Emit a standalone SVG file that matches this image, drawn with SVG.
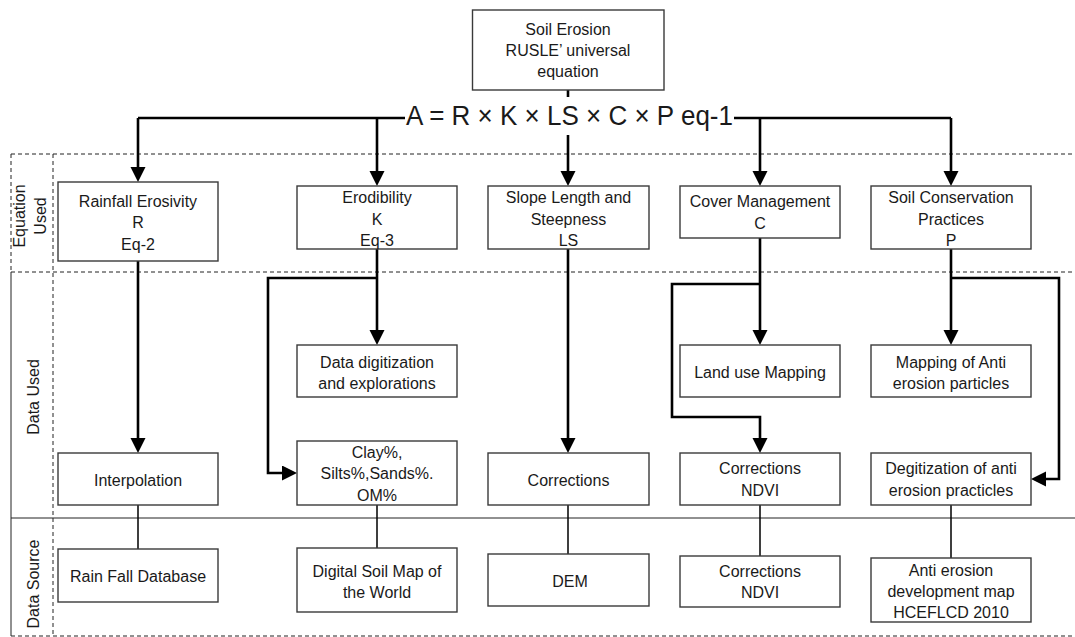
<svg xmlns="http://www.w3.org/2000/svg" width="1075" height="637" viewBox="0 0 1075 637">
<style>
.box{fill:#fff;stroke:#3a3a3a;stroke-width:1.4}
.t{font-family:"Liberation Sans",Arial,sans-serif;font-size:16px;fill:#1a1a1a;text-anchor:middle}
.eq{font-family:"Liberation Sans",Arial,sans-serif;font-size:27px;fill:#1a1a1a}
.c{fill:none;stroke:#000;stroke-width:2.6}
.ca{fill:none;stroke:#000;stroke-width:2.6;marker-end:url(#ah)}
.thin{fill:none;stroke:#000;stroke-width:1.5}
.dash{fill:none;stroke:#222;stroke-width:1;stroke-dasharray:4,3}
.sol{fill:none;stroke:#222;stroke-width:1}
</style>
<defs>
<marker id="ah" markerUnits="userSpaceOnUse" markerWidth="16" markerHeight="16" refX="10" refY="7.5" orient="auto">
<path d="M0,0 L15,7.5 L0,15 z" fill="#000"/>
</marker>
</defs>
<rect width="1075" height="637" fill="#fff"/>
<g id="lanes">
<path class="dash" d="M11,154 H1075 M11,272 H1075 M11,636 H1075 M11,154 V272 M53,154 V636"/>
<path class="sol" d="M11,272 V636 M11,518 H1075"/>
<text class="t" transform="translate(25,216) rotate(-90)">Equation</text>
<text class="t" transform="translate(46,216) rotate(-90)">Used</text>
<text class="t" transform="translate(39,397) rotate(-90)">Data Used</text>
<text class="t" transform="translate(39,584) rotate(-90)">Data Source</text>
</g>
<g id="connectors">
<path class="c" d="M568,90 V97"/>
<path class="c" d="M138,118 H405 M734,118 H951"/>
<path class="ca" d="M138,118 V177"/>
<path class="ca" d="M377,118 V181"/>
<path class="ca" d="M568,135 V181"/>
<path class="ca" d="M760,118 V181"/>
<path class="ca" d="M951,118 V181"/>
<path class="ca" d="M138,261 V448"/>
<path class="ca" d="M377,249 V340"/>
<path class="ca" d="M377,278 H268 V473 H292"/>
<path class="ca" d="M568,249 V448"/>
<path class="ca" d="M760,238 V340"/>
<path class="ca" d="M760,284 H672 V417 H760 V448"/>
<path class="ca" d="M951,249 V340"/>
<path class="ca" d="M951,278 H1059 V479 H1036"/>
<path class="thin" d="M138,505 V549 M377,505 V548 M568,505 V554 M760,505 V556 M951,505 V558"/>
</g>
<g id="top">
<rect class="box" x="472.5" y="10" width="191.5" height="80"/>
<text class="t" x="568" y="35">Soil Erosion</text>
<text class="t" x="568" y="56">RUSLE’ universal</text>
<text class="t" x="568" y="77">equation</text>
</g>
<g id="equation">
<text class="eq" x="406" y="125" textLength="327" lengthAdjust="spacingAndGlyphs">A = R × K × LS × C × P eq-1</text>
</g>
<g id="rainfall">
<rect class="box" x="58" y="182" width="160" height="79"/>
<text class="t" x="138" y="207">Rainfall Erosivity</text>
<text class="t" x="138" y="228">R</text>
<text class="t" x="138" y="250">Eq-2</text>
</g>
<g id="erodibility">
<rect class="box" x="297" y="186" width="160" height="63"/>
<text class="t" x="377" y="203">Erodibility</text>
<text class="t" x="377" y="225">K</text>
<text class="t" x="377" y="246">Eq-3</text>
</g>
<g id="slope">
<rect class="box" x="488" y="186" width="161" height="63"/>
<text class="t" x="568.5" y="203">Slope Length and</text>
<text class="t" x="568.5" y="225">Steepness</text>
<text class="t" x="568.5" y="246">LS</text>
</g>
<g id="cover">
<rect class="box" x="680" y="186" width="160" height="52"/>
<text class="t" x="760" y="207">Cover Management</text>
<text class="t" x="760" y="229">C</text>
</g>
<g id="conservation">
<rect class="box" x="871" y="186" width="160" height="63"/>
<text class="t" x="951" y="203">Soil Conservation</text>
<text class="t" x="951" y="225">Practices</text>
<text class="t" x="951" y="246">P</text>
</g>
<g id="digitization">
<rect class="box" x="297" y="345" width="160" height="52"/>
<text class="t" x="377" y="368">Data digitization</text>
<text class="t" x="377" y="389">and explorations</text>
</g>
<g id="landuse">
<rect class="box" x="680" y="345" width="160" height="52"/>
<text class="t" x="760" y="378">Land use Mapping</text>
</g>
<g id="mapping">
<rect class="box" x="871" y="345" width="160" height="52"/>
<text class="t" x="951" y="368">Mapping of Anti</text>
<text class="t" x="951" y="389">erosion particles</text>
</g>
<g id="interpolation">
<rect class="box" x="58" y="453" width="160" height="52"/>
<text class="t" x="138" y="486">Interpolation</text>
</g>
<g id="clay">
<rect class="box" x="297" y="441" width="160" height="64"/>
<text class="t" x="377" y="458">Clay%,</text>
<text class="t" x="377" y="479">Silts%,Sands%.</text>
<text class="t" x="377" y="501">OM%</text>
</g>
<g id="corrections-ls">
<rect class="box" x="488" y="453" width="161" height="52"/>
<text class="t" x="568.5" y="486">Corrections</text>
</g>
<g id="corrections-c">
<rect class="box" x="680" y="453" width="160" height="52"/>
<text class="t" x="760" y="474">Corrections</text>
<text class="t" x="760" y="496">NDVI</text>
</g>
<g id="degitization">
<rect class="box" x="871" y="453" width="160" height="52"/>
<text class="t" x="951" y="474">Degitization of anti</text>
<text class="t" x="951" y="496">erosion practicles</text>
</g>
<g id="rainfall-db">
<rect class="box" x="58" y="549" width="160" height="53"/>
<text class="t" x="138" y="582">Rain Fall Database</text>
</g>
<g id="soilmap">
<rect class="box" x="297" y="548" width="160" height="64"/>
<text class="t" x="377" y="577">Digital Soil Map of</text>
<text class="t" x="377" y="598">the World</text>
</g>
<g id="dem">
<rect class="box" x="488" y="554" width="161" height="52"/>
<text class="t" x="570" y="587">DEM</text>
</g>
<g id="ndvi-src">
<rect class="box" x="680" y="556" width="160" height="51"/>
<text class="t" x="760" y="577">Corrections</text>
<text class="t" x="760" y="598">NDVI</text>
</g>
<g id="anti-map">
<rect class="box" x="871" y="558" width="160" height="64"/>
<text class="t" x="951" y="576">Anti erosion</text>
<text class="t" x="951" y="597">development map</text>
<text class="t" x="951" y="618">HCEFLCD 2010</text>
</g>
</svg>
